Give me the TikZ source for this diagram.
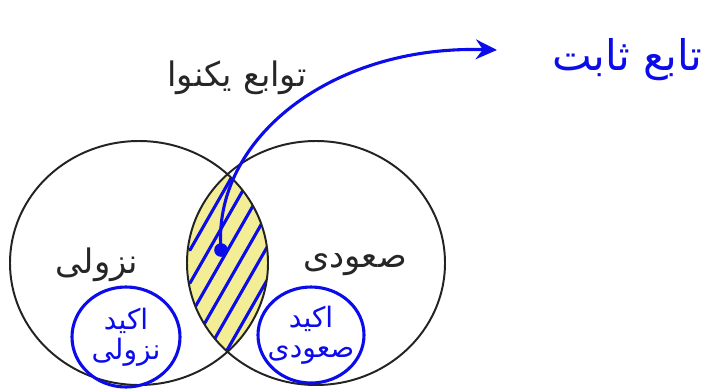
\documentclass[tikz,border=0pt]{standalone}
\usepackage{fontspec}
\usepackage{tikz}
\usetikzlibrary{arrows.meta, positioning, shapes.geometric}
\newfontfamily\farsifont[Script=Arabic]{DejaVu Sans}
\TeXXeTstate=1
\definecolor{inkblue}{RGB}{12, 12, 235}
\definecolor{lensyellow}{RGB}{243, 238, 150}
\definecolor{setgray}{RGB}{35, 35, 35}

\begin{document}
\begin{tikzpicture}[
    x=0.025cm, y=-0.025cm,
    setline/.style={draw=setgray, line width=1.4pt},
    setlabel/.style={font=\farsifont\fontsize{24}{28}\selectfont, text=black!85},
    inkline/.style={draw=inkblue, line width=2.2pt, line cap=round},
    inktext/.style={font=\farsifont\fontsize{20}{21}\selectfont, text=inkblue, align=center},
    inkdot/.style={circle, fill=inkblue, minimum size=0.34cm, inner sep=0pt}
  ]
  \useasboundingbox (0,0) rectangle (704,390);

  % Set centres
  \coordinate (decc) at (139,263);
  \coordinate (incc) at (316,263);

  % Intersection: yellow lens with hand hatching
  \begin{scope}
    \clip (decc) ellipse [x radius=129, y radius=122];
    \clip (incc) ellipse [x radius=129, y radius=122];
    \fill[lensyellow] (150,140) rectangle (300,390);
    \foreach \k in {0,...,5}
      \draw[inkline] (190,250+33*\k) -- (270,110+33*\k);
  \end{scope}

  % Two sets
  \draw[setline] (decc) ellipse [x radius=129, y radius=122];
  \draw[setline] (incc) ellipse [x radius=129, y radius=122];

  % Printed labels
  \node[setlabel] (mono) at (237,78) {\beginR توابع یکنوا\endR};
  \node[setlabel] (dec) at (97,265) {\beginR نزولی\endR};
  \node[setlabel] (inc) at (355,265) {\beginR صعودی\endR};

  % Hand notes: strict subsets
  \draw[inkline] (126,337) ellipse [x radius=54, y radius=50];
  \node[inktext] (sdec) at (126,337) {\beginR اکید\endR\\\beginR نزولی\endR};
  \draw[inkline] (311,335) ellipse [x radius=53, y radius=48];
  \node[inktext] (sinc) at (311,335) {\beginR اکید\endR\\\beginR صعودی\endR};

  % Hand note: constant function
  \node[inkdot] (dot) at (221,250) {};
  \node[inktext, font=\farsifont\fontsize{30}{32}\selectfont] (const) at (627,60) {\beginR تابع ثابت\endR};
  \coordinate (tip) at (497,50);
  \draw[inkline, -{Stealth[length=15pt, width=14pt]}] (dot.center) .. controls (212,140) and (330,45) .. (tip);
\end{tikzpicture}
\end{document}
